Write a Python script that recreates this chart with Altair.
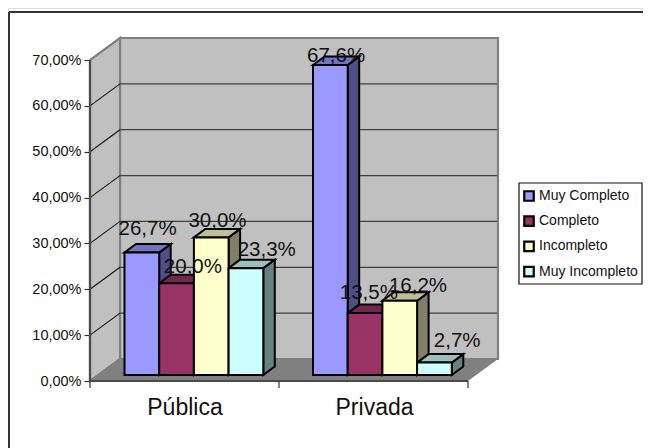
import altair as alt
import pandas as pd

categories = ["Pública", "Privada"]
series = ["Muy Completo", "Completo", "Incompleto", "Muy Incompleto"]
publica = [26.7, 20.0, 30.0, 23.3]
privada = [67.6, 13.5, 16.2, 2.7]
y_ticks = [0, 10, 20, 30, 40, 50, 60, 70]

front_colors = ["#9999ff", "#993366", "#ffffcc", "#ccffff"]
side_colors = ["#4f4f85", "#4d1a33", "#808066", "#668080"]
top_colors = ["#7373bf", "#732650", "#bfbf99", "#99bfbf"]

FONT = "Liberation Sans"
PXV = (381 - 60) / 70.0


def Y(py):
    return (381 - py) / PXV


BASE = Y(375)
DX, DYV = 11.5, 8.5 / PXV
BACK = Y(359)
BAR_W = 34.7
GROUP_X = [124.5, 313.0]
label_dx = [[0, 10.6, 0.5, 15], [0, -2, 12.5, 17]]
label_base = [[235, 273, 227, 256], [62, 299, 292, 347]]
cat_x = [185, 374.5]

xs = alt.Scale(domain=[8, 643], range=[0, 635], nice=False, zero=False)
ys = alt.Scale(domain=[Y(448), Y(8)], range=[440, 0], nice=False, zero=False)
y_axis = alt.Axis(
    values=y_ticks, title=None, grid=False, domain=False, offset=-82,
    tickSize=6, tickColor="#333333", tickWidth=1.2,
    labelFont=FONT, labelFontSize=14.5, labelColor="#111111", labelPadding=3,
    labelExpr="replace(format(datum.value,'.2f'),'.',',')+'%'",
)
X = lambda f="x": alt.X(f + ":Q", scale=xs, axis=None)
YY = lambda f="y": alt.Y(f + ":Q", scale=ys, axis=y_axis)

front, side, top, labels = [], [], [], []
for g, vals in enumerate([publica, privada]):
    for i, v in enumerate(vals):
        x0 = GROUP_X[g] + i * BAR_W
        x1 = x0 + BAR_W
        h = BASE + v
        bid = f"{g}-{i}"
        front.append(dict(x=x0, x2=x1, y=BASE, y2=h, s=series[i]))
        side += [
            dict(id=bid, x=x1, y=BASE, y2=h, f=side_colors[i]),
            dict(id=bid, x=x1 + DX, y=BASE + DYV, y2=h + DYV, f=side_colors[i]),
        ]
        top += [
            dict(id=bid, y=h, x=x0, x2=x1, f=top_colors[i]),
            dict(id=bid, y=h + DYV, x=x0 + DX, x2=x1 + DX, f=top_colors[i]),
        ]
        labels.append(dict(
            x=(x0 + x1 + DX) / 2 + label_dx[g][i],
            y=Y(label_base[g][i]),
            t=f"{v:.1f}".replace(".", ",") + "%",
        ))

# frame of the chart
frame = alt.Chart(pd.DataFrame([
    dict(x=9, x2=643, y=Y(12), y2=Y(12)),
    dict(x=9, x2=9, y=Y(12), y2=Y(448)),
])).mark_rule(color="#333333", strokeWidth=2).encode(
    x=X(), x2=alt.X2("x2:Q"), y=YY(), y2=alt.Y2("y2:Q"))

# back wall
wall = alt.Chart(pd.DataFrame([dict(x=120, x2=498, y=BACK, y2=BACK + 70)])).mark_rect(
    fill="#c0c0c0", stroke="#808080", strokeWidth=2.2
).encode(x=X(), x2=alt.X2("x2:Q"), y=YY(), y2=alt.Y2("y2:Q"))

left_wall = alt.Chart(pd.DataFrame([
    dict(x=90, y=0, y2=70),
    dict(x=120, y=BACK, y2=BACK + 70),
])).mark_area(fill="#c0c0c0", stroke="#808080", strokeWidth=2.2).encode(
    x=X(), y=YY(), y2=alt.Y2("y2:Q"))

floor = alt.Chart(pd.DataFrame([
    dict(y=0, x=90, x2=468),
    dict(y=BACK, x=120, x2=498),
])).mark_area(orient="horizontal", fill="#808080").encode(
    y=YY(), x=X(), x2=alt.X2("x2:Q"))

levels = [t for t in y_ticks if 0 < t < 70]
grid = alt.Chart(pd.DataFrame([dict(x=120, x2=497, y=BACK + t) for t in levels])).mark_rule(
    color="#404040", strokeWidth=1.2
).encode(x=X(), x2=alt.X2("x2:Q"), y=YY())

diag_rows = []
for t in levels:
    diag_rows += [dict(id=t, x=90, y=t), dict(id=t, x=120, y=BACK + t)]
diag = alt.Chart(pd.DataFrame(diag_rows)).mark_line(color="#111111", strokeWidth=1.1).encode(
    x=X(), y=YY(), detail="id:N")

# axis lines and ticks
axis_lines = alt.Chart(pd.DataFrame([
    dict(x=90, x2=90, y=0, y2=70),
    dict(x=90, x2=468, y=0, y2=0),
])).mark_rule(color="#4a4a4a", strokeWidth=2.2).encode(
    x=X(), x2=alt.X2("x2:Q"), y=YY(), y2=alt.Y2("y2:Q"))

x_ticks = alt.Chart(pd.DataFrame([dict(x=v, y=0, y2=Y(388)) for v in (90, 279, 468)])).mark_rule(
    color="#333333", strokeWidth=1.2
).encode(x=X(), y=YY(), y2=alt.Y2("y2:Q"))

side_layer = alt.Chart(pd.DataFrame(side)).mark_area(stroke="black", strokeWidth=2, strokeJoin="miter").encode(
    x=X(), y=YY(), y2=alt.Y2("y2:Q"), detail="id:N",
    fill=alt.Fill("f:N", scale=None))

top_layer = alt.Chart(pd.DataFrame(top)).mark_area(
    orient="horizontal", stroke="black", strokeWidth=2, strokeJoin="miter"
).encode(
    y=YY(), x=X(), x2=alt.X2("x2:Q"), detail="id:N",
    fill=alt.Fill("f:N", scale=None))

legend_box = alt.Chart(pd.DataFrame([dict(x=519, x2=642, y=Y(183), y2=Y(284))])).mark_rect(
    fill="white", stroke="#111111", strokeWidth=1.2
).encode(x=X(), x2=alt.X2("x2:Q"), y=YY(), y2=alt.Y2("y2:Q"))

front_layer = alt.Chart(pd.DataFrame(front)).mark_rect(stroke="black", strokeWidth=2).encode(
    x=X(), x2=alt.X2("x2:Q"), y=YY(), y2=alt.Y2("y2:Q"),
    color=alt.Color("s:N", scale=alt.Scale(domain=series, range=front_colors), legend=alt.Legend(
        orient="none", legendX=514, legendY=181, title=None, padding=0,
        symbolType="square", symbolSize=90, symbolStrokeColor="black", symbolStrokeWidth=2.2,
        labelFont=FONT, labelFontSize=14, labelColor="#111111", labelOffset=3,
        labelLimit=200, rowPadding=5.2, symbolOpacity=1,
    )),
)

label_layer = alt.Chart(pd.DataFrame(labels)).mark_text(
    font=FONT, fontSize=20.5, color="#111111", align="center", baseline="alphabetic"
).encode(x=X(), y=YY(), text="t:N")

cat_layer = alt.Chart(pd.DataFrame(dict(x=cat_x, y=[Y(415)] * 2, t=categories))).mark_text(
    font=FONT, fontSize=23, color="#111111", align="center", baseline="alphabetic"
).encode(x=X(), y=YY(), text="t:N")

chart = alt.layer(
    wall, frame, left_wall, floor, grid, diag, axis_lines, x_ticks,
    side_layer, top_layer, legend_box, front_layer, label_layer, cat_layer,
).properties(
    width=635, height=440, padding=0,
    autosize=alt.AutoSizeParams(type="none"),
).configure_view(stroke=None).configure(background="white")

chart.save("out.html", embed_options={"renderer": "svg", "actions": False})
